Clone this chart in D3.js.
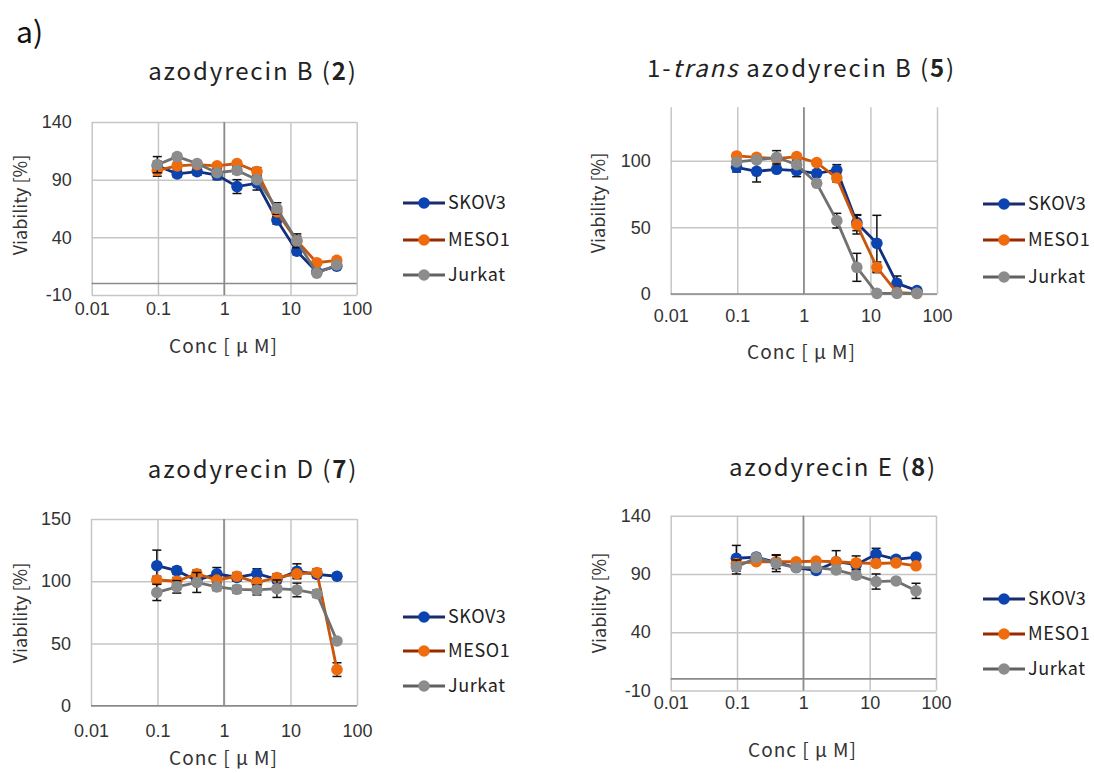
<!DOCTYPE html>
<html>
<head>
<meta charset="utf-8">
<script src="https://cdn.jsdelivr.net/npm/d3@7"></script>
<style>
  body { margin: 0; background: #fff; }
  svg { font-family: "Noto Sans CJK JP", "Noto Sans", sans-serif; }
</style>
</head>
<body>
<svg id="chart" width="1094" height="773"></svg>
<script>
// concentrations (uM), twofold dilutions
const conc = [0.0977, 0.195, 0.39, 0.78, 1.56, 3.125, 6.25, 12.5, 25, 50]
const cellLines = ['SKOV3', 'MESO1', 'Jurkat']
const xTicks = [0.01, 0.1, 1, 10, 100]

// azodyrecin B (2)
const azoB_SKOV3 = [102, 95, 97, 94, 84, 87, 55, 28, 10, 15]
const azoB_SKOV3_sd = [4, 3, 3, 4, 6, 6, 3.5, 3, 2, 2]
const azoB_MESO1 = [98, 102, 103, 102, 104, 97, 62, 37, 18, 20]
const azoB_MESO1_sd = [5, 3, 2, 2, 2, 3.5, 4, 4, 2, 2]
const azoB_Jurkat = [103, 110, 104, 96, 98, 90, 65, 37, 9, 16]
const azoB_Jurkat_sd = [7, 2.5, 2, 3, 3, 3, 5, 6, 2, 2]
const azoB_yTicks = [-10, 40, 90, 140]

// 1-trans azodyrecin B (5)
const transB_SKOV3 = [95, 92, 93.5, 92.5, 90.5, 93, 53.5, 38, 8, 2.5]
const transB_SKOV3_sd = [3.5, 8, 2, 4.5, 2, 4, 6, 21, 5.5, 1]
const transB_MESO1 = [103.5, 102.5, 101.5, 103, 98.5, 87, 52, 20, 1, 0.5]
const transB_MESO1_sd = [2, 2, 2, 2, 2, 3, 7, 4, 1, 0.5]
const transB_Jurkat = [99, 100.5, 102.5, 97, 83, 55, 20, 0.5, 0.5, 0.5]
const transB_Jurkat_sd = [2, 2, 5, 3, 2, 5.5, 10.5, 0.5, 0.5, 0.5]
const transB_yTicks = [0, 50, 100]

// azodyrecin D (7)
const azoD_SKOV3 = [112.5, 108.5, 100.5, 106, 103, 106, 101.5, 108, 105.5, 104]
const azoD_SKOV3_sd = [12.5, 3, 3, 5, 3, 4, 3, 6, 3, 2]
const azoD_MESO1 = [101, 100, 106, 101, 104, 99, 103, 106, 107, 29]
const azoD_MESO1_sd = [3, 3, 3, 3, 3, 3, 3, 3, 3, 5.5]
const azoD_Jurkat = [91, 95.5, 99, 95.5, 93.5, 93, 94, 93, 90, 52]
const azoD_Jurkat_sd = [6.5, 5, 8, 3, 3, 4, 7, 5.5, 3, 2]
const azoD_yTicks = [0, 50, 100, 150]

// azodyrecin E (8)
const azoE_SKOV3 = [103.5, 104.5, 100, 95.5, 93, 100.5, 98, 107, 102.5, 104.5]
const azoE_SKOV3_sd = [11, 3, 3, 2, 2, 9.5, 4, 5, 2, 2]
const azoE_MESO1 = [99, 100.5, 100.5, 100.5, 101, 100.5, 99.5, 99, 99.5, 97]
const azoE_MESO1_sd = [2, 2, 6, 2, 2, 2, 6, 2, 2, 2]
const azoE_Jurkat = [96, 104, 99, 95.5, 95.5, 93.5, 89, 83.5, 84, 75.5]
const azoE_Jurkat_sd = [6, 2, 7, 2, 2, 2, 3, 6.5, 2, 6.5]
const azoE_yTicks = [-10, 40, 90, 140]

const lineColors = ['#13307f', '#c8560c', '#707070']
const markerColors = ['#0b43b0', '#ee6c0e', '#8c8c8c']
const legendLineColors = ['#1a2a6a', '#9a2800', '#606060']

const svg = d3.select('#chart')

svg.append('text')
	.attr('x', 16).attr('y', 43)
	.attr('font-size', 30)
	.attr('fill', '#111')
	.text('a)')

const panels = [
	{
		title: [['azodyrecin B (', ''], ['2', 'bold'], [')', '']],
		series: [[azoB_SKOV3, azoB_SKOV3_sd], [azoB_MESO1, azoB_MESO1_sd], [azoB_Jurkat, azoB_Jurkat_sd]],
		yTicks: azoB_yTicks, yDomain: [-10, 140],
		x0: 91.7, x1: 356.7, y0: 295, y1: 122,
		xLabGap: 20, titleX: 253, titleY: 80, xTitleX: 223.5, xTitleY: 353,
		yTitleX: 27, yTitleY: 205, legX: 403, legY: [203, 240, 275]
	},
	{
		title: [['1-', ''], ['trans', 'italic'], [' azodyrecin B (', ''], ['5', 'bold'], [')', '']],
		series: [[transB_SKOV3, transB_SKOV3_sd], [transB_MESO1, transB_MESO1_sd], [transB_Jurkat, transB_Jurkat_sd]],
		yTicks: transB_yTicks, yDomain: [0, 140],
		x0: 670.7, x1: 937, y0: 294, y1: 107.3,
		xLabGap: 28, titleX: 801.5, titleY: 77, xTitleX: 801.5, xTitleY: 359,
		yTitleX: 605, yTitleY: 203, legX: 983, legY: [204, 240, 277]
	},
	{
		title: [['azodyrecin D (', ''], ['7', 'bold'], [')', '']],
		series: [[azoD_SKOV3, azoD_SKOV3_sd], [azoD_MESO1, azoD_MESO1_sd], [azoD_Jurkat, azoD_Jurkat_sd]],
		yTicks: azoD_yTicks, yDomain: [0, 150],
		x0: 91, x1: 357, y0: 705.7, y1: 519,
		xLabGap: 31, titleX: 253, titleY: 478, xTitleX: 223.5, xTitleY: 765,
		yTitleX: 27, yTitleY: 613, legX: 403, legY: [617, 651, 686]
	},
	{
		title: [['azodyrecin E (', ''], ['8', 'bold'], [')', '']],
		series: [[azoE_SKOV3, azoE_SKOV3_sd], [azoE_MESO1, azoE_MESO1_sd], [azoE_Jurkat, azoE_Jurkat_sd]],
		yTicks: azoE_yTicks, yDomain: [-10, 140],
		x0: 670.7, x1: 936, y0: 690.5, y1: 515.7,
		xLabGap: 18, titleX: 833, titleY: 476, xTitleX: 802.5, xTitleY: 757,
		yTitleX: 606, yTitleY: 603, legX: 983, legY: [599, 634, 669]
	}
]

function drawPanel(p) {
	const g = svg.append('g')

	const x = d3.scaleLog().domain([0.01, 100]).range([p.x0, p.x1])
	const y = d3.scaleLinear().domain(p.yDomain).range([p.y0, p.y1])

	// horizontal gridlines + y tick labels
	const yAxis = g.append('g')
		.attr('transform', 'translate(' + p.x0 + ',0)')
		.call(d3.axisLeft(y).tickValues(p.yTicks).tickFormat(d => String(d)).tickSize(-(p.x1 - p.x0)).tickPadding(20))
	yAxis.select('.domain').remove()
	yAxis.selectAll('line').attr('stroke', '#c6c6c6').attr('stroke-width', 1.5)
	yAxis.selectAll('text').attr('font-size', 18).attr('fill', '#333').attr('font-family', null)

	// vertical gridlines + x tick labels
	const xAxis = g.append('g')
		.attr('transform', 'translate(0,' + p.y0 + ')')
		.call(d3.axisBottom(x).tickValues(xTicks).tickFormat(d => String(d)).tickSize(-(p.y0 - p.y1)))
	xAxis.select('.domain').remove()
	xAxis.selectAll('line').attr('stroke', '#c6c6c6').attr('stroke-width', 1.5)
	xAxis.selectAll('text')
		.attr('y', p.xLabGap).attr('dy', 0)
		.attr('font-size', 18).attr('fill', '#333').attr('font-family', null)

	// axis lines (cross at x=1, y=0)
	g.append('line')
		.attr('x1', x(1)).attr('x2', x(1))
		.attr('y1', p.y0).attr('y2', p.y1)
		.attr('stroke', '#8a8a8a').attr('stroke-width', 1.6)
	g.append('line')
		.attr('x1', p.x0).attr('x2', p.x1)
		.attr('y1', y(0)).attr('y2', y(0))
		.attr('stroke', '#8a8a8a').attr('stroke-width', 1.6)

	const line = d3.line()
		.x((d, i) => x(conc[i]))
		.y(d => y(d))

	p.series.forEach(([vals, sds], s) => {
		const sg = g.append('g')
		// error bars
		const eb = sg.selectAll('.eb').data(vals).join('g')
		eb.append('line')
			.attr('x1', (d, i) => x(conc[i])).attr('x2', (d, i) => x(conc[i]))
			.attr('y1', (d, i) => y(d - sds[i])).attr('y2', (d, i) => y(d + sds[i]))
			.attr('stroke', '#111').attr('stroke-width', 1.5)
		eb.append('line')
			.attr('x1', (d, i) => x(conc[i]) - 4.5).attr('x2', (d, i) => x(conc[i]) + 4.5)
			.attr('y1', (d, i) => y(d + sds[i])).attr('y2', (d, i) => y(d + sds[i]))
			.attr('stroke', '#111').attr('stroke-width', 1.5)
		eb.append('line')
			.attr('x1', (d, i) => x(conc[i]) - 4.5).attr('x2', (d, i) => x(conc[i]) + 4.5)
			.attr('y1', (d, i) => y(d - sds[i])).attr('y2', (d, i) => y(d - sds[i]))
			.attr('stroke', '#111').attr('stroke-width', 1.5)

		sg.append('path')
			.datum(vals)
			.attr('d', line)
			.attr('fill', 'none')
			.attr('stroke', lineColors[s])
			.attr('stroke-width', 2.8)

		sg.selectAll('circle').data(vals).join('circle')
			.attr('cx', (d, i) => x(conc[i]))
			.attr('cy', d => y(d))
			.attr('r', 5.8)
			.attr('fill', markerColors[s])
	})

	// title
	const t = g.append('text')
		.attr('x', p.titleX).attr('y', p.titleY)
		.attr('text-anchor', 'middle')
		.attr('font-size', 24)
		.attr('letter-spacing', 1.9)
		.attr('fill', '#222')
	p.title.forEach(([str, style]) => {
		const ts = t.append('tspan').text(str)
		if (style === 'bold') ts.attr('font-weight', 'bold')
		if (style === 'italic') ts.attr('font-style', 'italic')
	})

	// axis titles
	g.append('text')
		.attr('x', p.xTitleX).attr('y', p.xTitleY)
		.attr('text-anchor', 'middle')
		.attr('font-size', 19)
		.attr('letter-spacing', 1)
		.attr('fill', '#333')
		.text('Conc [ μ M]')
	g.append('text')
		.attr('transform', 'translate(' + p.yTitleX + ',' + p.yTitleY + ') rotate(-90)')
		.attr('text-anchor', 'middle')
		.attr('font-size', 18)
		.attr('fill', '#333')
		.text('Viability [%]')

	// legend
	cellLines.forEach((name, s) => {
		const ly = p.legY[s]
		g.append('line')
			.attr('x1', p.legX).attr('x2', p.legX + 42)
			.attr('y1', ly).attr('y2', ly)
			.attr('stroke', legendLineColors[s]).attr('stroke-width', 2.8)
		g.append('circle')
			.attr('cx', p.legX + 21).attr('cy', ly).attr('r', 5.8)
			.attr('fill', markerColors[s])
		g.append('text')
			.attr('x', p.legX + 45).attr('y', ly)
			.attr('dy', '0.35em')
			.attr('font-size', 18)
			.attr('letter-spacing', 0.6)
			.attr('fill', '#222')
			.text(name)
	})
}

panels.forEach(drawPanel)
</script>
</body>
</html>
